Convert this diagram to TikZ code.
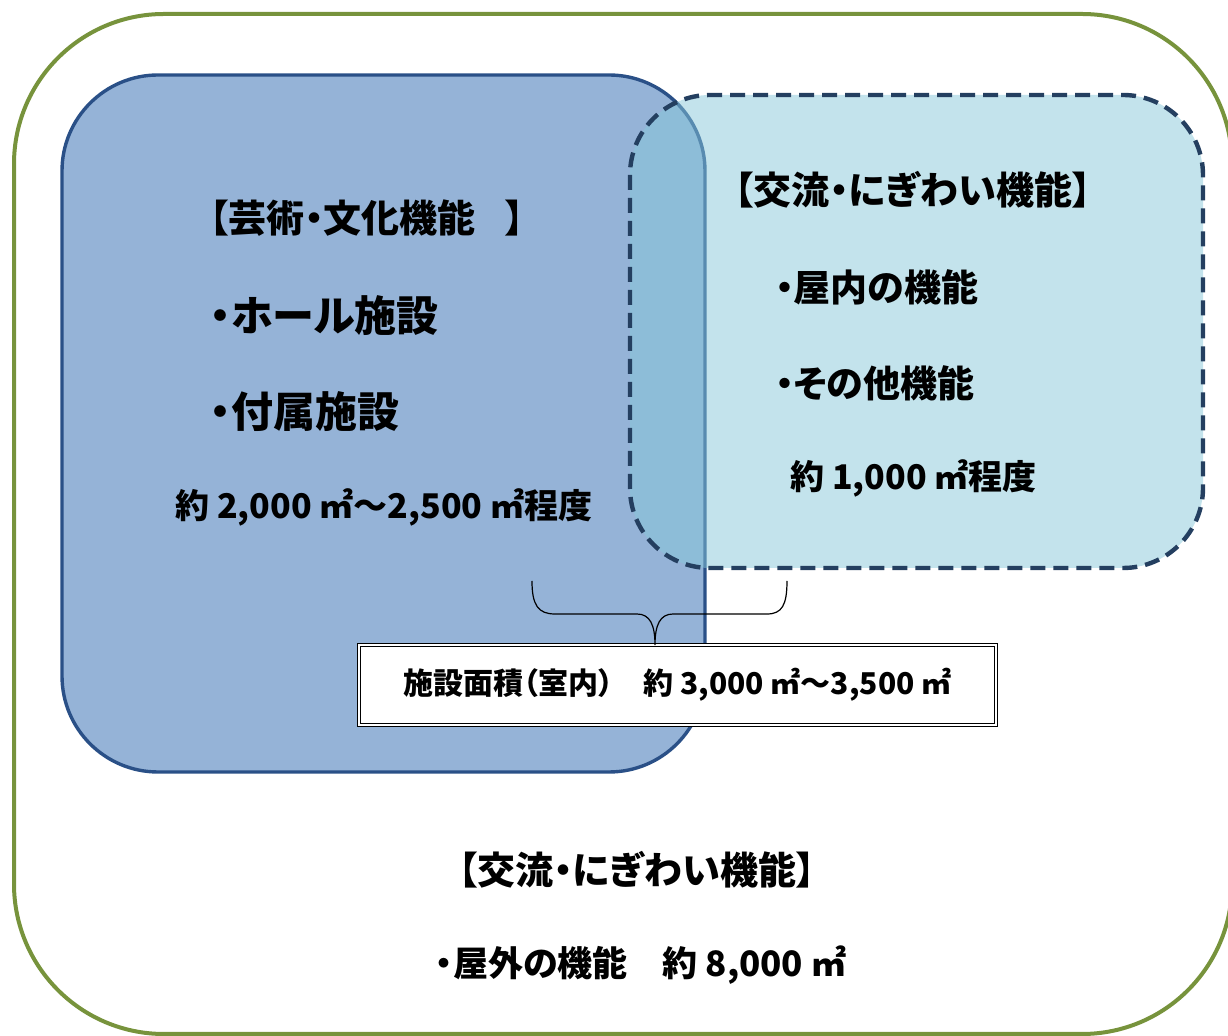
\documentclass[tikz,border=0pt]{standalone}
\usepackage{fontspec}
\setmainfont{Noto Sans CJK JP}[RawFeature=+palt]
\definecolor{framegreen}{HTML}{77933C}
\definecolor{artfill}{HTML}{95B3D7}
\definecolor{artline}{HTML}{2A5087}
\definecolor{plazafill}{HTML}{87C7D9}
\definecolor{plazaline}{HTML}{243F60}
\tikzset{
  txt/.style={inner sep=0pt, font=\bfseries\fontsize{#1}{#1}\selectfont},
  itemtxt/.style={txt=#1, anchor=west},
  totalbox/.style={draw, double, double distance=1pt, line width=0.7pt, fill=white,
    minimum width=318.5pt, minimum height=40pt, inner sep=0pt,
    font=\bfseries\fontsize{15}{17}\selectfont},
  bracelinie/.style={line width=0.6pt}
}
\begin{document}
\begin{tikzpicture}[x=0.5pt,y=-0.5pt]
  \useasboundingbox (0,0) rectangle (1228,1036);
  % outer frame, cut at the right and bottom
  \begin{scope}
    \clip (0,0) rectangle (1228,1036);
    \draw [framegreen, line width=2pt, rounded corners=75pt] (14,14) rectangle (1232,1034);
  \end{scope}
  % the two areas
  \draw [artline, fill=artfill, line width=1.7pt, rounded corners=48pt] (62,75) rectangle (705,772);
  \fill [plazafill, fill opacity=0.5, rounded corners=40pt] (630,95) rectangle (1203,568);
  \draw [plazaline, line width=2.2pt, dash pattern=on 7.5pt off 4pt, rounded corners=40pt] (630,95) rectangle (1203,568);

  \node [txt=19] (arthead) at (367,218) {【芸術・文化機能\hspace{15pt}】};
  \node [itemtxt=21] (hall) at (210,316) {・ホール施設};
  \node [itemtxt=21] (annex) at (210,412) {・付属施設};
  \node [itemtxt=17] (artarea) at (175,507) {約 2,000 ㎡～2,500 ㎡程度};

  \node [txt=19] (plazahead) at (913,190) {【交流・にぎわい機能】};
  \node [itemtxt=18.5] (indoor) at (775,287) {・屋内の機能};
  \node [itemtxt=18.5] (other) at (775,383) {・その他機能};
  \node [itemtxt=17] (plazaarea) at (790,478) {約 1,000 ㎡程度};

  \node [totalbox] (total) at (677.5,685) {施設面積（室内）　約 3,000 ㎡～3,500 ㎡};

  % brace over both areas
  \coordinate (bracel) at (532,581);
  \coordinate (bracer) at (787,581);
  \coordinate (bracetip) at (655,645);
  \draw [bracelinie] (bracel) .. controls (532,605) and (538,614) .. (555,614) -- (637,614)
    .. controls (650,614) and (655,625) .. (bracetip)
    .. controls (655,625) and (660,614) .. (673,614) -- (767,614)
    .. controls (782,614) and (787,605) .. (bracer);

  \node [txt=19] (outhead) at (637,870) {【交流・にぎわい機能】};
  \node [txt=17.5] (outdoor) at (641,965) {・屋外の機能　約 8,000 ㎡};
\end{tikzpicture}
\end{document}
